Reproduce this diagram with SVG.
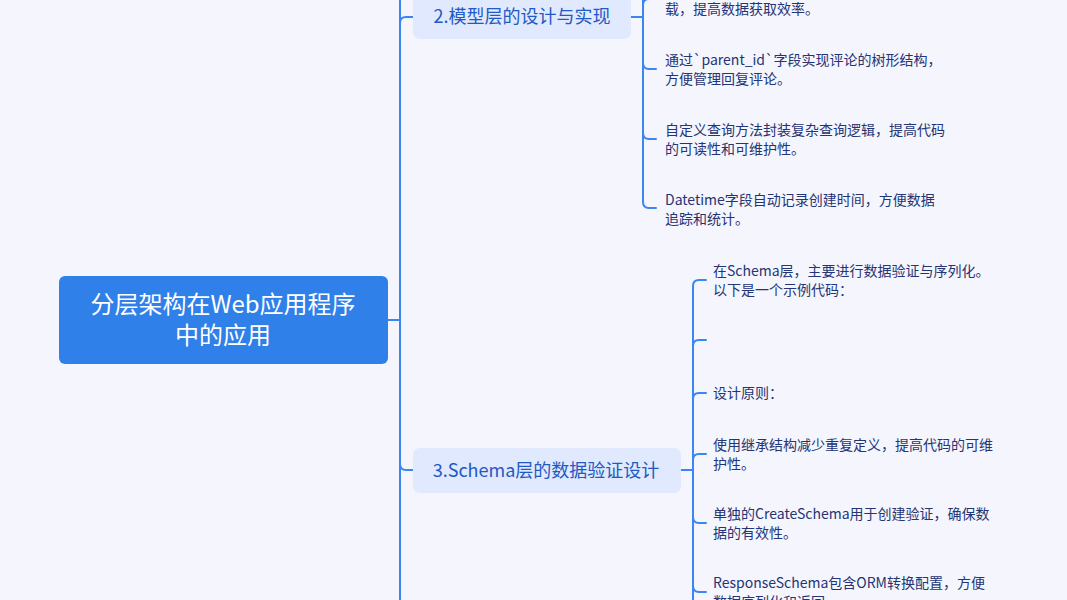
<svg xmlns="http://www.w3.org/2000/svg" width="1067" height="600" viewBox="0 0 1067 600">
<style>
.bg{fill:#f4f5fd}
.ln{fill:none;stroke:#3b86f1;stroke-width:2;stroke-linecap:round}
.root{fill:#3080ea}
.rt{fill:#ffffff;font-family:"Noto Sans CJK SC","Noto Sans",sans-serif;font-size:24px;text-anchor:middle}
.br{fill:#e0e9fd}
.bt{fill:#2359c4;font-family:"Noto Sans CJK SC","Noto Sans",sans-serif;font-size:18px;text-anchor:middle}
.lt{fill:#243474;font-family:"Noto Sans CJK SC","Noto Sans",sans-serif;font-size:14px}
</style>
<rect class="bg" x="0" y="0" width="1067" height="600"/>
<g id="connectors">
  <path class="ln" d="M388,320 L400,320"/>
  <path class="ln" d="M400,-10 L400,610"/>
  <path class="ln" d="M400,23 Q400,17 406,17 L413,17"/>
  <path class="ln" d="M400,464 Q400,470 406,470 L413,470"/>
  <path class="ln" d="M631,17 L643,17"/>
  <path class="ln" d="M643,-10 L643,202 Q643,208 649,208 L656,208"/>
  <path class="ln" d="M643,5 Q643,-1 649,-1 L656,-1"/>
  <path class="ln" d="M643,63 Q643,69 649,69 L656,69"/>
  <path class="ln" d="M643,133 Q643,139 649,139 L656,139"/>
  <path class="ln" d="M681,470 L693,470"/>
  <path class="ln" d="M693,610 L693,286 Q693,280 699,280 L706,280"/>
  <path class="ln" d="M693,346 Q693,340 699,340 L706,340"/>
  <path class="ln" d="M693,399 Q693,393 699,393 L706,393"/>
  <path class="ln" d="M693,460 Q693,454 699,454 L706,454"/>
  <path class="ln" d="M693,517 Q693,523 699,523 L706,523"/>
  <path class="ln" d="M693,586 Q693,592 699,592 L706,592"/>
</g>
<g id="root">
  <rect class="root" x="59" y="276" width="329" height="88" rx="6"/>
  <text class="rt" x="223" y="313">分层架构在Web应用程序</text>
  <text class="rt" x="223" y="344">中的应用</text>
</g>
<g id="branch2">
  <rect class="br" x="413" y="-6" width="218" height="45" rx="7"/>
  <text class="bt" x="522" y="23">2.模型层的设计与实现</text>
</g>
<g id="b2c1"><text class="lt" x="665" y="14">载，提高数据获取效率。</text></g>
<g id="b2c2"><text class="lt" x="665" y="65">通过`parent_id`字段实现评论的树形结构，</text><text class="lt" x="665" y="84">方便管理回复评论。</text></g>
<g id="b2c3"><text class="lt" x="665" y="135">自定义查询方法封装复杂查询逻辑，提高代码</text><text class="lt" x="665" y="154">的可读性和可维护性。</text></g>
<g id="b2c4"><text class="lt" x="665" y="205">Datetime字段自动记录创建时间，方便数据</text><text class="lt" x="665" y="224">追踪和统计。</text></g>
<g id="branch3">
  <rect class="br" x="413" y="448" width="268" height="45" rx="7"/>
  <text class="bt" x="546" y="477">3.Schema层的数据验证设计</text>
</g>
<g id="b3c1"><text class="lt" x="713" y="276">在Schema层，主要进行数据验证与序列化。</text><text class="lt" x="713" y="295">以下是一个示例代码：</text></g>
<g id="b3c2"></g>
<g id="b3c3"><text class="lt" x="713" y="398">设计原则：</text></g>
<g id="b3c4"><text class="lt" x="713" y="450">使用继承结构减少重复定义，提高代码的可维</text><text class="lt" x="713" y="469">护性。</text></g>
<g id="b3c5"><text class="lt" x="713" y="519">单独的CreateSchema用于创建验证，确保数</text><text class="lt" x="713" y="538">据的有效性。</text></g>
<g id="b3c6"><text class="lt" x="713" y="588">ResponseSchema包含ORM转换配置，方便</text><text class="lt" x="713" y="607">数据序列化和返回。</text></g>
</svg>
